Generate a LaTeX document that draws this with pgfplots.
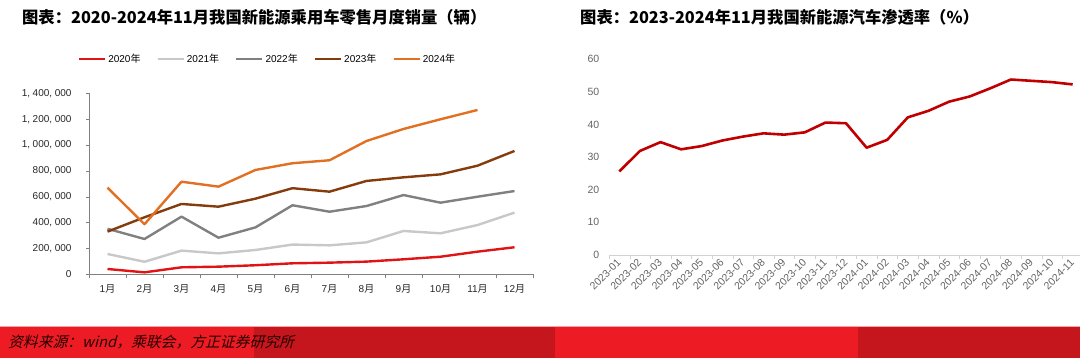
\documentclass[border=0pt]{standalone}
\usepackage{fontspec}
\setmainfont{Liberation Sans}
\newfontfamily\cjk{Noto Sans CJK SC}
\newfontfamily\cjkit{Noto Sans CJK SC}[FakeSlant=0.25]
\usepackage{pgfplots}
\pgfplotsset{compat=1.18}
\definecolor{c2020}{RGB}{224,20,20}
\definecolor{c2021}{RGB}{200,200,200}
\definecolor{c2022}{RGB}{128,128,128}
\definecolor{c2023}{RGB}{133,60,12}
\definecolor{c2024}{RGB}{226,112,34}
\definecolor{pen}{RGB}{192,0,0}
\definecolor{barA}{RGB}{237,28,36}
\definecolor{barB}{RGB}{196,22,28}
\definecolor{axgray}{RGB}{128,128,128}
\definecolor{lightax}{RGB}{210,210,210}
\definecolor{lblgray}{RGB}{100,100,100}
\begin{document}
\begin{tikzpicture}
\path[use as bounding box] (0pt,0pt) rectangle (1080pt,358pt);
\fill[barA] (0pt,0pt) rectangle (254pt,32pt);
\fill[barB] (254pt,0pt) rectangle (555pt,32pt);
\fill[barA] (555pt,0pt) rectangle (858pt,32pt);
\fill[barB] (858pt,0pt) rectangle (1080pt,32pt);
\fill[white!60!barA] (0pt,31pt) rectangle (1080pt,32pt);
\node[anchor=west,inner sep=0pt,text=black!85!red] at (8pt,15.5pt) {\fontsize{14.8}{15}\selectfont\cjkit 资料来源：wind，乘联会，方正证券研究所};
\node[anchor=west,inner sep=0pt] at (22pt,341pt) {\fontsize{16.3}{17}\selectfont\cjk\bfseries 图表：2020-2024年11月我国新能源乘用车零售月度销量（辆）};
\node[anchor=west,inner sep=0pt] at (580pt,341pt) {\fontsize{16.3}{17}\selectfont\cjk\bfseries 图表：2023-2024年11月我国新能源汽车渗透率（\%）};

\begin{axis}[
  at={(89pt,83.7pt)}, anchor=south west, scale only axis,
  width=444pt, height=181pt,
  xmin=0.5, xmax=12.5, ymin=0, ymax=1400000,
  axis x line*=bottom, axis y line*=left,
  axis line style={axgray,-},
  tick align=outside,
  xtick={1,...,12},
  xticklabels={{1{\cjk 月}},{2{\cjk 月}},{3{\cjk 月}},{4{\cjk 月}},{5{\cjk 月}},{6{\cjk 月}},{7{\cjk 月}},{8{\cjk 月}},{9{\cjk 月}},{10{\cjk 月}},{11{\cjk 月}},{12{\cjk 月}}},
  major x tick style={draw=none},
  minor xtick={0.5,1.5,...,12.5},
  minor tick length=4pt,
  minor x tick style={axgray},
  ytick={0,200000,...,1400000},
  major tick length=3pt,
  y tick style={axgray},
  scaled y ticks=false,
  /pgf/number format/assume math mode=true,
  yticklabel style={/pgf/number format/fixed,/pgf/number format/1000 sep={,\hspace{2.6pt}}},
  tick label style={font=\fontsize{10}{10}\selectfont, black!85},
  x tick label style={yshift=-4pt},
  y tick label style={xshift=-11pt},
  legend columns=5,
  legend style={at={(0.402,1.19)},anchor=center,draw=none,fill=none,
    font=\fontsize{10}{10}\selectfont, /tikz/every even column/.append style={column sep=14pt}},
  legend image code/.code={\draw[#1] (0pt,0pt) -- (26pt,0pt);},
  every axis plot/.append style={line width=2.4pt, line join=round},
]
\addplot[c2020] coordinates {(1,41000)(2,15000)(3,54000)(4,59000)(5,70000)(6,85000)(7,90000)(8,98000)(9,116000)(10,136000)(11,175000)(12,209000)};
\addlegendentry{2020{\cjk 年}}
\addplot[c2021] coordinates {(1,157000)(2,97000)(3,183000)(4,162000)(5,188000)(6,230000)(7,224000)(8,247000)(9,335000)(10,317000)(11,381000)(12,477000)};
\addlegendentry{2021{\cjk 年}}
\addplot[c2022] coordinates {(1,352000)(2,273000)(3,446000)(4,283000)(5,363000)(6,534000)(7,484000)(8,528000)(9,613000)(10,554000)(11,600000)(12,644000)};
\addlegendentry{2022{\cjk 年}}
\addplot[c2023] coordinates {(1,330000)(2,441000)(3,544000)(4,523000)(5,585000)(6,666000)(7,639000)(8,722000)(9,750000)(10,773000)(11,840000)(12,954000)};
\addlegendentry{2023{\cjk 年}}
\addplot[c2024] coordinates {(1,670000)(2,387000)(3,716000)(4,678000)(5,807000)(6,859000)(7,882000)(8,1031000)(9,1124000)(10,1199000)(11,1271000)};
\addlegendentry{2024{\cjk 年}}
\end{axis}

\begin{axis}[
  at={(609pt,103pt)}, anchor=south west, scale only axis,
  width=474pt, height=195.7pt,
  xmin=-0.5, xmax=22.5, ymin=0, ymax=60,
  axis x line*=bottom, axis y line*=left,
  x axis line style={lightax,-},
  y axis line style={draw=none},
  tick align=outside,
  xtick={0,...,22},
  xticklabels={2023-01,2023-02,2023-03,2023-04,2023-05,2023-06,2023-07,2023-08,2023-09,2023-10,2023-11,2023-12,2024-01,2024-02,2024-03,2024-04,2024-05,2024-06,2024-07,2024-08,2024-09,2024-10,2024-11},
  major x tick style={draw=none},
  minor xtick={-0.5,0.5,...,22.5},
  minor tick length=4pt,
  minor x tick style={lightax},
  ytick={0,10,...,60},
  major y tick style={draw=none},
  tick label style={font=\fontsize{10.5}{10.5}\selectfont, lblgray},
  x tick label style={rotate=45, anchor=east, xshift=2pt, yshift=-1pt},
  y tick label style={xshift=-2pt},
  /pgf/number format/assume math mode=true,
]
\addplot[pen, line width=2.6pt, line join=round] coordinates {(0,25.6)(1,31.9)(2,34.6)(3,32.4)(4,33.4)(5,35.1)(6,36.3)(7,37.3)(8,36.9)(9,37.6)(10,40.6)(11,40.4)(12,32.9)(13,35.3)(14,42.2)(15,44.2)(16,47.0)(17,48.6)(18,51.1)(19,53.8)(20,53.4)(21,53.0)(22,52.3)};
\end{axis}
\end{tikzpicture}
\end{document}
